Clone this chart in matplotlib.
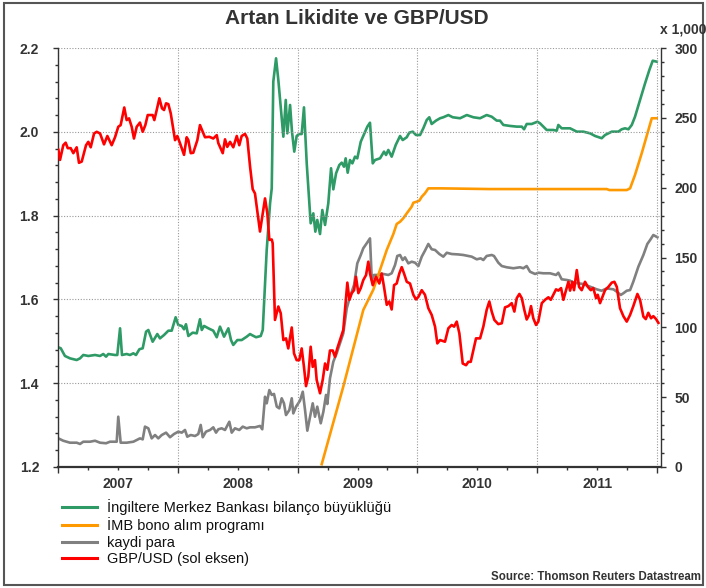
import matplotlib
matplotlib.use("Agg")
import matplotlib.pyplot as plt
from matplotlib.ticker import MultipleLocator, FixedLocator, FuncFormatter
from matplotlib.lines import Line2D
from matplotlib.patches import Rectangle

plt.rcParams['font.family'] = ['Liberation Sans Narrow', 'Liberation Sans', 'DejaVu Sans']

title = "Artan Likidite ve GBP/USD"
source = "Source: Thomson Reuters Datastream"
labels = ["İngiltere Merkez Bankası bilanço büyüklüğü", "İMB bono alım programı",
          "kaydi para", "GBP/USD (sol eksen)"]
years = [2007, 2008, 2009, 2010, 2011]

# GBP/USD (left axis), dates as decimal years
gbp_t = [2007.003, 2007.017, 2007.044, 2007.064, 2007.081, 2007.106, 2007.128, 2007.156, 2007.175, 2007.198,
         2007.234, 2007.253, 2007.273, 2007.301, 2007.323, 2007.351, 2007.384, 2007.412, 2007.448, 2007.476,
         2007.503, 2007.523, 2007.553, 2007.573, 2007.593, 2007.615, 2007.634, 2007.657, 2007.684, 2007.707,
         2007.729, 2007.749, 2007.768, 2007.790, 2007.804, 2007.824, 2007.846, 2007.868, 2007.885, 2007.902,
         2007.921, 2007.941, 2007.977, 2007.996, 2008.018, 2008.052, 2008.074, 2008.088, 2008.108, 2008.129,
         2008.163, 2008.185, 2008.208, 2008.227, 2008.263, 2008.296, 2008.325, 2008.338, 2008.375, 2008.394,
         2008.413, 2008.436, 2008.463, 2008.492, 2008.513, 2008.533, 2008.561, 2008.580, 2008.603, 2008.625,
         2008.644, 2008.686, 2008.728, 2008.747, 2008.764, 2008.784, 2008.792, 2008.811, 2008.839, 2008.859,
         2008.881, 2008.903, 2008.922, 2008.951, 2008.970, 2008.992, 2009.014, 2009.034, 2009.053, 2009.070,
         2009.089, 2009.109, 2009.126, 2009.145, 2009.159, 2009.187, 2009.210, 2009.229, 2009.248, 2009.270,
         2009.293, 2009.312, 2009.331, 2009.354, 2009.381, 2009.415, 2009.432, 2009.452, 2009.471, 2009.487,
         2009.507, 2009.527, 2009.548, 2009.571, 2009.590, 2009.604, 2009.627, 2009.654, 2009.682, 2009.702,
         2009.721, 2009.744, 2009.765, 2009.785, 2009.805, 2009.827, 2009.849, 2009.869, 2009.888, 2009.911,
         2009.938, 2009.966, 2009.988, 2010.008, 2010.036, 2010.063, 2010.091, 2010.119, 2010.147, 2010.166,
         2010.189, 2010.230, 2010.258, 2010.286, 2010.306, 2010.328, 2010.350, 2010.378, 2010.406, 2010.425,
         2010.445, 2010.467, 2010.489, 2010.523, 2010.550, 2010.578, 2010.600, 2010.620, 2010.642, 2010.675,
         2010.704, 2010.731, 2010.759, 2010.787, 2010.809, 2010.829, 2010.851, 2010.871, 2010.892, 2010.912,
         2010.932, 2010.948, 2010.967, 2010.990, 2011.009, 2011.038, 2011.065, 2011.093, 2011.113, 2011.134,
         2011.157, 2011.176, 2011.199, 2011.218, 2011.240, 2011.260, 2011.274, 2011.293, 2011.307, 2011.330,
         2011.349, 2011.371, 2011.399, 2011.422, 2011.447, 2011.468, 2011.491, 2011.505, 2011.524, 2011.547,
         2011.566, 2011.594, 2011.622, 2011.644, 2011.664, 2011.691, 2011.719, 2011.747, 2011.775, 2011.802,
         2011.836, 2011.858, 2011.886, 2011.906, 2011.927, 2011.950, 2011.969, 2011.992, 2012.011]
gbp_v = [1.957, 1.933, 1.968, 1.974, 1.961, 1.961, 1.949, 1.963, 1.926, 1.929,
         1.968, 1.976, 1.963, 1.996, 2.000, 1.996, 1.970, 1.990, 1.968, 1.987,
         2.012, 2.016, 2.058, 2.028, 2.032, 2.012, 1.984, 2.012, 2.022, 2.000,
         2.016, 2.040, 2.040, 2.040, 2.028, 2.052, 2.080, 2.056, 2.052, 2.068,
         2.066, 2.044, 1.980, 1.990, 1.973, 1.945, 1.987, 1.980, 1.949, 1.950,
         1.980, 2.016, 2.000, 1.987, 1.988, 1.984, 1.992, 1.973, 1.949, 1.982,
         1.964, 1.976, 1.963, 1.990, 1.968, 1.990, 1.995, 1.984, 1.917, 1.863,
         1.853, 1.762, 1.841, 1.806, 1.742, 1.743, 1.734, 1.551, 1.583, 1.567,
         1.503, 1.507, 1.483, 1.533, 1.471, 1.455, 1.455, 1.483, 1.439, 1.393,
         1.416, 1.487, 1.439, 1.455, 1.408, 1.376, 1.409, 1.447, 1.432, 1.478,
         1.478, 1.463, 1.483, 1.503, 1.527, 1.640, 1.599, 1.615, 1.622, 1.654,
         1.615, 1.627, 1.646, 1.658, 1.690, 1.662, 1.634, 1.654, 1.638, 1.662,
         1.630, 1.587, 1.595, 1.576, 1.634, 1.638, 1.662, 1.677, 1.662, 1.642,
         1.638, 1.611, 1.600, 1.606, 1.622, 1.611, 1.579, 1.563, 1.535, 1.495,
         1.503, 1.499, 1.531, 1.539, 1.535, 1.547, 1.519, 1.447, 1.443, 1.451,
         1.451, 1.479, 1.507, 1.507, 1.535, 1.575, 1.595, 1.571, 1.551, 1.541,
         1.543, 1.581, 1.584, 1.591, 1.571, 1.603, 1.613, 1.603, 1.575, 1.552,
         1.563, 1.584, 1.555, 1.539, 1.547, 1.591, 1.599, 1.605, 1.599, 1.611,
         1.624, 1.621, 1.627, 1.599, 1.622, 1.642, 1.621, 1.642, 1.622, 1.670,
         1.630, 1.622, 1.642, 1.630, 1.622, 1.627, 1.603, 1.611, 1.591, 1.608,
         1.622, 1.630, 1.640, 1.642, 1.630, 1.579, 1.560, 1.547, 1.563, 1.584,
         1.613, 1.599, 1.559, 1.553, 1.568, 1.555, 1.560, 1.553, 1.544]

# Bank of England balance sheet (right axis, bn)
boe_t = [2007.003, 2007.023, 2007.058, 2007.100, 2007.156, 2007.184, 2007.211, 2007.253, 2007.309, 2007.351,
         2007.378, 2007.401, 2007.420, 2007.476, 2007.495, 2007.518, 2007.534, 2007.573, 2007.601, 2007.629,
         2007.651, 2007.679, 2007.707, 2007.735, 2007.754, 2007.790, 2007.829, 2007.851, 2007.885, 2007.921,
         2007.949, 2007.982, 2008.004, 2008.033, 2008.052, 2008.068, 2008.088, 2008.124, 2008.158, 2008.185,
         2008.200, 2008.219, 2008.255, 2008.296, 2008.325, 2008.352, 2008.386, 2008.422, 2008.444, 2008.463,
         2008.497, 2008.533, 2008.575, 2008.603, 2008.617, 2008.653, 2008.692, 2008.709, 2008.742, 2008.770,
         2008.784, 2008.797, 2008.820, 2008.839, 2008.859, 2008.881, 2008.901, 2008.914, 2008.937, 2008.953,
         2008.972, 2008.992, 2009.012, 2009.034, 2009.053, 2009.076, 2009.098, 2009.109, 2009.131, 2009.148,
         2009.164, 2009.187, 2009.206, 2009.229, 2009.256, 2009.279, 2009.298, 2009.321, 2009.348, 2009.368,
         2009.387, 2009.401, 2009.418, 2009.437, 2009.457, 2009.479, 2009.498, 2009.527, 2009.548, 2009.582,
         2009.604, 2009.627, 2009.646, 2009.688, 2009.721, 2009.738, 2009.757, 2009.785, 2009.819, 2009.855,
         2009.877, 2009.911, 2009.932, 2009.961, 2009.988, 2010.022, 2010.049, 2010.078, 2010.099, 2010.119,
         2010.155, 2010.189, 2010.216, 2010.258, 2010.295, 2010.356, 2010.412, 2010.467, 2010.523, 2010.578,
         2010.620, 2010.662, 2010.689, 2010.717, 2010.773, 2010.829, 2010.871, 2010.890, 2010.912, 2010.954,
         2011.001, 2011.023, 2011.079, 2011.134, 2011.163, 2011.176, 2011.204, 2011.274, 2011.330, 2011.385,
         2011.441, 2011.483, 2011.538, 2011.566, 2011.622, 2011.677, 2011.705, 2011.733, 2011.761, 2011.789,
         2011.816, 2011.858, 2011.900, 2011.936, 2011.964, 2011.997]
boe_v = [85.7, 85.0, 79.5, 77.8, 76.6, 77.8, 80.2, 79.5, 80.2, 79.5,
         80.9, 79.0, 80.9, 80.2, 80.2, 99.3, 80.2, 80.9, 80.2, 81.4,
         80.2, 84.3, 85.0, 96.9, 98.1, 89.7, 95.2, 92.1, 94.5, 97.6,
         97.6, 107.2, 101.7, 101.0, 98.6, 102.2, 93.8, 96.2, 95.7, 105.8,
         98.1, 101.0, 99.3, 97.6, 92.9, 100.5, 93.3, 99.3, 90.9, 87.4,
         90.9, 90.9, 93.3, 95.2, 94.5, 92.9, 93.8, 98.1, 155.4, 188.8,
         199.5, 275.9, 292.6, 277.1, 258.0, 236.5, 262.8, 238.9, 259.2, 240.1,
         225.8, 237.0, 238.4, 238.4, 257.5, 217.4, 188.8, 174.5, 181.6, 168.5,
         176.9, 166.8, 184.0, 173.3, 188.8, 213.9, 198.8, 210.3, 216.2, 217.9,
         215.0, 221.0, 210.7, 219.8, 217.4, 222.2, 221.0, 232.9, 237.0, 243.7,
         246.5, 217.4, 219.8, 221.0, 225.8, 223.4, 227.0, 222.2, 230.6, 237.0,
         234.1, 236.1, 239.4, 240.1, 237.7, 237.7, 242.5, 248.5, 250.4, 245.6,
         248.0, 249.7, 250.4, 252.0, 250.4, 249.7, 252.0, 250.4, 249.7, 252.0,
         250.8, 248.0, 248.0, 244.9, 244.2, 243.7, 243.7, 241.8, 245.6, 245.6,
         247.2, 246.1, 241.3, 241.3, 240.8, 244.9, 242.5, 242.5, 240.1, 240.1,
         238.9, 237.0, 235.4, 237.7, 240.1, 240.1, 241.8, 242.5, 241.8, 244.9,
         250.8, 262.8, 274.7, 284.3, 290.9, 290.2]

# Asset purchase programme (right axis, bn)
apf_t = [2009.201, 2009.381, 2009.548, 2009.632, 2009.744, 2009.799, 2009.827, 2009.855, 2009.882, 2009.911,
         2009.952, 2009.966, 2009.994, 2010.016, 2010.036, 2010.063, 2010.091, 2010.203, 2010.600, 2011.000,
         2011.580, 2011.602, 2011.747, 2011.775, 2011.816, 2011.872, 2011.956, 2011.997]
apf_v = [2.0, 57.5, 112.4, 127.0, 155.4, 166.8, 174.0, 175.6, 178.1, 181.6,
         186.4, 189.2, 190.0, 190.7, 193.5, 196.0, 199.5, 199.5, 199.0, 199.0,
         199.0, 198.3, 198.3, 199.5, 209.1, 224.6, 249.7, 249.7]

# Reserves (right axis, bn)
res_t = [2007.003, 2007.044, 2007.100, 2007.156, 2007.184, 2007.211, 2007.267, 2007.309, 2007.351, 2007.401,
         2007.434, 2007.490, 2007.503, 2007.523, 2007.573, 2007.629, 2007.657, 2007.684, 2007.707, 2007.726,
         2007.754, 2007.782, 2007.810, 2007.837, 2007.866, 2007.902, 2007.935, 2007.968, 2008.004, 2008.033,
         2008.060, 2008.079, 2008.108, 2008.144, 2008.171, 2008.191, 2008.208, 2008.235, 2008.269, 2008.296,
         2008.319, 2008.338, 2008.366, 2008.394, 2008.430, 2008.450, 2008.477, 2008.513, 2008.542, 2008.575,
         2008.603, 2008.644, 2008.686, 2008.705, 2008.728, 2008.742, 2008.764, 2008.784, 2008.803, 2008.826,
         2008.847, 2008.867, 2008.886, 2008.903, 2008.931, 2008.951, 2008.964, 2008.987, 2009.020, 2009.043,
         2009.062, 2009.081, 2009.104, 2009.126, 2009.145, 2009.164, 2009.193, 2009.215, 2009.237, 2009.248,
         2009.270, 2009.298, 2009.326, 2009.354, 2009.381, 2009.410, 2009.437, 2009.471, 2009.498, 2009.527,
         2009.548, 2009.577, 2009.604, 2009.619, 2009.638, 2009.674, 2009.715, 2009.757, 2009.785, 2009.813,
         2009.832, 2009.855, 2009.877, 2009.896, 2009.924, 2009.952, 2009.980, 2010.008, 2010.036, 2010.063,
         2010.091, 2010.119, 2010.147, 2010.183, 2010.216, 2010.245, 2010.286, 2010.341, 2010.383, 2010.453,
         2010.495, 2010.528, 2010.550, 2010.578, 2010.620, 2010.639, 2010.675, 2010.704, 2010.745, 2010.801,
         2010.856, 2010.884, 2010.912, 2010.940, 2010.982, 2011.009, 2011.051, 2011.107, 2011.157, 2011.176,
         2011.204, 2011.246, 2011.274, 2011.301, 2011.343, 2011.385, 2011.441, 2011.497, 2011.538, 2011.580,
         2011.636, 2011.664, 2011.697, 2011.719, 2011.747, 2011.775, 2011.802, 2011.844, 2011.886, 2011.919,
         2011.942, 2011.969, 2012.003]
res_v = [20.5, 18.8, 17.4, 17.4, 16.5, 18.1, 18.1, 18.8, 17.4, 17.0,
         18.1, 18.1, 36.0, 17.4, 17.4, 18.1, 19.3, 20.5, 19.8, 28.9,
         27.7, 20.5, 22.9, 20.5, 22.9, 24.6, 21.3, 23.6, 25.3, 24.6,
         26.5, 21.7, 22.9, 22.2, 23.6, 30.1, 21.3, 25.3, 26.5, 28.4,
         24.6, 27.0, 27.7, 26.5, 32.4, 24.6, 27.7, 26.5, 28.9, 27.7,
         28.4, 28.4, 29.4, 27.0, 50.3, 45.6, 55.1, 51.6, 52.3, 43.2,
         42.0, 49.2, 45.6, 37.2, 40.8, 49.2, 38.4, 43.2, 47.5, 53.9,
         40.8, 26.0, 36.0, 45.6, 36.0, 43.2, 31.3, 39.6, 51.6, 45.1,
         63.5, 75.4, 81.4, 88.6, 95.7, 113.6, 121.9, 130.3, 145.8, 151.8,
         156.6, 160.2, 163.7, 133.9, 137.5, 137.5, 138.2, 137.5, 138.7, 144.6,
         151.1, 151.8, 148.2, 150.1, 145.8, 147.0, 146.3, 143.9, 150.6, 154.9,
         159.7, 155.9, 155.4, 152.5, 150.6, 153.4, 152.5, 152.2, 151.8, 150.6,
         148.7, 149.4, 148.2, 151.1, 151.8, 151.1, 146.3, 143.9, 143.0, 142.3,
         143.0, 142.3, 143.9, 139.8, 138.2, 139.1, 138.7, 138.7, 137.5, 139.1,
         134.4, 133.9, 133.4, 132.0, 131.5, 131.0, 129.1, 127.2, 126.2, 127.9,
         127.2, 125.5, 123.2, 124.4, 126.2, 126.7, 132.7, 143.4, 151.8, 159.7,
         162.5, 166.1, 164.5]

GREEN = '#2e9a66'
ORANGE = '#ff9900'
GRAY = '#808080'
RED = '#ff0000'
DARK = '#333333'

fig = plt.figure(figsize=(7.06, 5.88), dpi=100)
ax = fig.add_axes([58/706, 1-467/588, (661-58)/706, (467-48)/588])
ax2 = ax.twinx()

lw = 1.9
ax2.plot(res_t, res_v, color=GRAY, lw=lw, zorder=2)
ax2.plot(apf_t, apf_v, color=ORANGE, lw=lw, zorder=3)
ax2.plot(boe_t, boe_v, color=GREEN, lw=lw, zorder=4)
ax.plot(gbp_t, gbp_v, color=RED, lw=lw, zorder=5)
ax.set_zorder(ax2.get_zorder() + 1)
ax.patch.set_visible(False)

ax.set_xlim(2007.0, 2012.033)
ax.set_ylim(1.2, 2.2)
ax2.set_ylim(0, 300)

# x ticks: year boundaries major, quarters minor, labels mid-year
ax.xaxis.set_major_locator(FixedLocator([y for y in range(2007, 2013)]))
ax.xaxis.set_major_formatter(FuncFormatter(lambda v, p: ''))
qpos = [y + q for y in range(2007, 2012) for q in (0.25, 0.5, 0.75)]
ax.xaxis.set_minor_locator(FixedLocator(qpos))
ax.xaxis.set_minor_formatter(FuncFormatter(
    lambda v, p: str(int(v)) if abs(v - int(v) - 0.5) < 1e-6 and int(v) in years else ''))
ax.tick_params(axis='x', which='major', length=4.5, width=1, color=DARK, direction='out')
ax.tick_params(axis='x', which='minor', length=2.5, width=1, color=DARK, direction='out',
               pad=4.5, labelsize=10, labelcolor=DARK)
for t in ax.xaxis.get_minorticklabels():
    t.set_fontweight('bold')

ax.yaxis.set_major_locator(MultipleLocator(0.2))
ax.yaxis.set_minor_locator(MultipleLocator(0.04))
ax.yaxis.set_major_formatter(FuncFormatter(lambda v, p: f"{v:.1f}"))
ax.tick_params(axis='y', which='major', length=3.6, width=1, color=DARK, pad=10,
               labelsize=10, labelcolor=DARK)
ax.tick_params(axis='y', which='minor', length=2.2, width=1, color=DARK)

ax2.yaxis.set_major_locator(MultipleLocator(50))
ax2.yaxis.set_minor_locator(MultipleLocator(10))
ax2.tick_params(axis='y', which='major', length=3.6, width=1, color=DARK, pad=6,
                labelsize=10, labelcolor=DARK)
ax2.tick_params(axis='y', which='minor', length=2.2, width=1, color=DARK)

for a in (ax, ax2):
    for lab in a.get_yticklabels():
        lab.set_fontweight('bold')
    for s in a.spines.values():
        s.set_visible(False)
ax.spines['left'].set_visible(True)
ax.spines['bottom'].set_visible(True)
ax2.spines['right'].set_visible(True)
for s in (ax.spines['left'], ax.spines['bottom'], ax2.spines['right']):
    s.set_color(DARK)
ax.spines['bottom'].set_linewidth(1.6)
ax.spines['left'].set_linewidth(1.0)
ax2.spines['right'].set_linewidth(1.0)

ax.grid(True, which='major', axis='both', linestyle=(0, (1, 1.5)), color='#999999', lw=0.8)
ax.set_axisbelow(True)

fig.text(0.505, 1-19/588, title, ha='center', va='center', fontsize=15, fontweight='bold', color=DARK)
fig.text(660/706, 1-30/588, "x 1,000", ha='left', va='center', fontsize=10, fontweight='bold', color=DARK)
fig.text(701/706, 1-577/588, source, ha='right', va='center', fontsize=8.3, fontweight='bold', color=DARK)

handles = [Line2D([], [], color=c, lw=2.2) for c in (GREEN, ORANGE, GRAY, RED)]
leg = fig.legend(handles, labels, loc='upper left', bbox_to_anchor=(62/706, 1-499/588),
                 frameon=False, borderpad=0, borderaxespad=0, handlelength=2.4,
                 handletextpad=0.7, labelspacing=0.16, prop={'size': 10.5})
for t in leg.get_texts():
    t.set_color('#111111')

fig.patches.append(Rectangle((4/706, 3/588), 699/706, 582/588, transform=fig.transFigure,
                             fill=False, edgecolor='#555555', lw=1.5))

fig.savefig('out.png', dpi=100)
